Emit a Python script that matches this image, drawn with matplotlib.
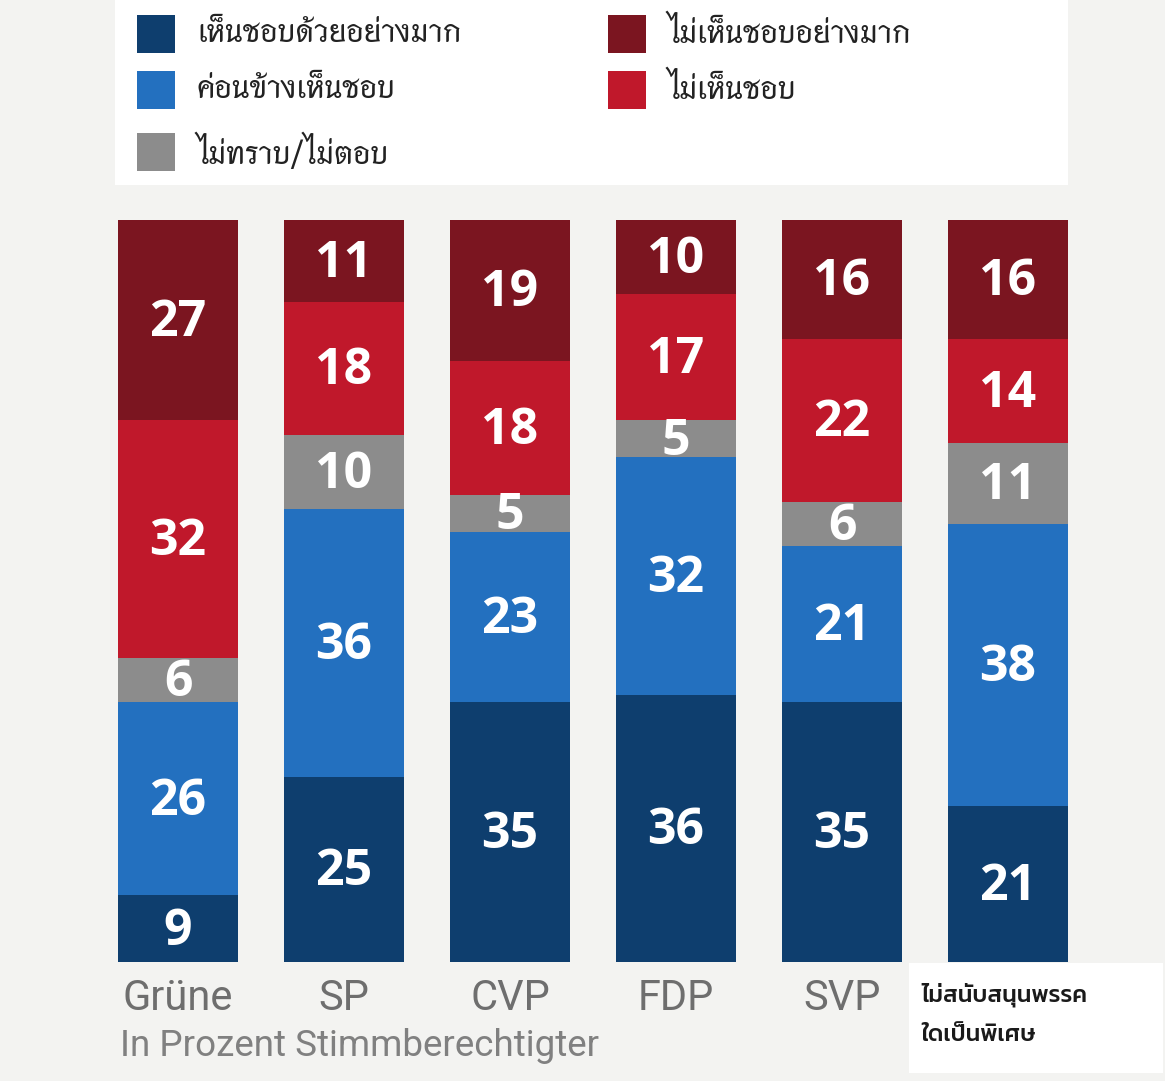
import matplotlib
matplotlib.use("Agg")
import matplotlib.pyplot as plt
from matplotlib.patches import Rectangle

# =========================
# DATA
# =========================
parties = ["Grüne", "SP", "CVP", "FDP", "SVP", "ไม่สนับสนุนพรรค\nใดเป็นพิเศษ"]
strongly_approve = [9, 25, 35, 36, 35, 21]
somewhat_approve = [26, 36, 23, 32, 21, 38]
dont_know = [6, 10, 5, 5, 6, 11]
disapprove = [32, 18, 18, 17, 22, 14]
strongly_disapprove = [27, 11, 19, 10, 16, 16]

series_labels = ["เห็นชอบด้วยอย่างมาก", "ค่อนข้างเห็นชอบ", "ไม่ทราบ/ไม่ตอบ",
                 "ไม่เห็นชอบ", "ไม่เห็นชอบอย่างมาก"]
colors = ["#0e3e6e", "#2370bf", "#8c8c8c", "#c0182b", "#7b1520"]
note = "In Prozent Stimmberechtigter"

thai_family = ["Thasadith", "Noto Sans Thai", "DejaVu Sans"]
thai_bold = ["Kanit", "Noto Sans Thai", "DejaVu Sans"]

# =========================
# FIGURE
# =========================
fig = plt.figure(figsize=(11.65, 10.81), dpi=100)
fig.patch.set_facecolor("#f3f3f1")

ax = fig.add_axes([95 / 1165, 119 / 1081, 996 / 1165, 742 / 1081])
ax.set_facecolor("none")

series = [strongly_approve, somewhat_approve, dont_know, disapprove, strongly_disapprove]
x = list(range(len(parties)))
bottom = [0] * len(parties)
for vals, col in zip(series, colors):
    ax.bar(x, vals, bottom=bottom, width=0.723, color=col, linewidth=0)
    for i, v in enumerate(vals):
        ax.text(i, bottom[i] + v / 2 - 0.4, str(v), ha="center", va="center",
                color="white", fontsize=36, fontweight="bold", family="Open Sans")
    bottom = [b + v for b, v in zip(bottom, vals)]

ax.set_xlim(-0.5, 5.5)
ax.set_ylim(0, 100)
ax.axis("off")

# category labels
for i, name in enumerate(parties[:-1]):
    ax.text(i, -2.1, name, ha="center", va="top", color="#6e6e6e",
            fontsize=30, family="Roboto")

# white box for the last label
fig.patches.append(Rectangle((909 / 1165, 8 / 1081), 254 / 1165, 110 / 1081,
                             transform=fig.transFigure, facecolor="white",
                             edgecolor="none"))
line1, line2 = parties[-1].split("\n")
fig.text(921 / 1165, 1 - 995 / 1081, line1, va="center", ha="left",
         fontsize=17, fontweight="medium", color="#1a1a1a", family=thai_bold)
fig.text(921 / 1165, 1 - 1035 / 1081, line2, va="center", ha="left",
         fontsize=17, fontweight="medium", color="#1a1a1a", family=thai_bold)

fig.text(120 / 1165, 1 - 1046 / 1081, note, va="center", ha="left",
         fontsize=26.5, color="#808080", family="Roboto")

# =========================
# LEGEND
# =========================
fig.patches.append(Rectangle((115 / 1165, 1 - 185 / 1081), 953 / 1165, 185 / 1081,
                             transform=fig.transFigure, facecolor="white",
                             edgecolor="none"))
legend_pos = [(137, 34), (137, 90), (137, 152), (608, 90), (608, 34)]
for (px, py), lab, col in zip(legend_pos, series_labels, colors):
    fig.patches.append(Rectangle((px / 1165, 1 - (py + 19) / 1081), 38 / 1165, 38 / 1081,
                                 transform=fig.transFigure, facecolor=col,
                                 edgecolor="none"))
    fig.text((px + 60) / 1165, 1 - py / 1081, lab, va="center", ha="left",
             fontsize=23, fontweight="semibold", color="#222222", family=thai_family)

plt.savefig("out.png", dpi=100, facecolor=fig.get_facecolor())
plt.close()
